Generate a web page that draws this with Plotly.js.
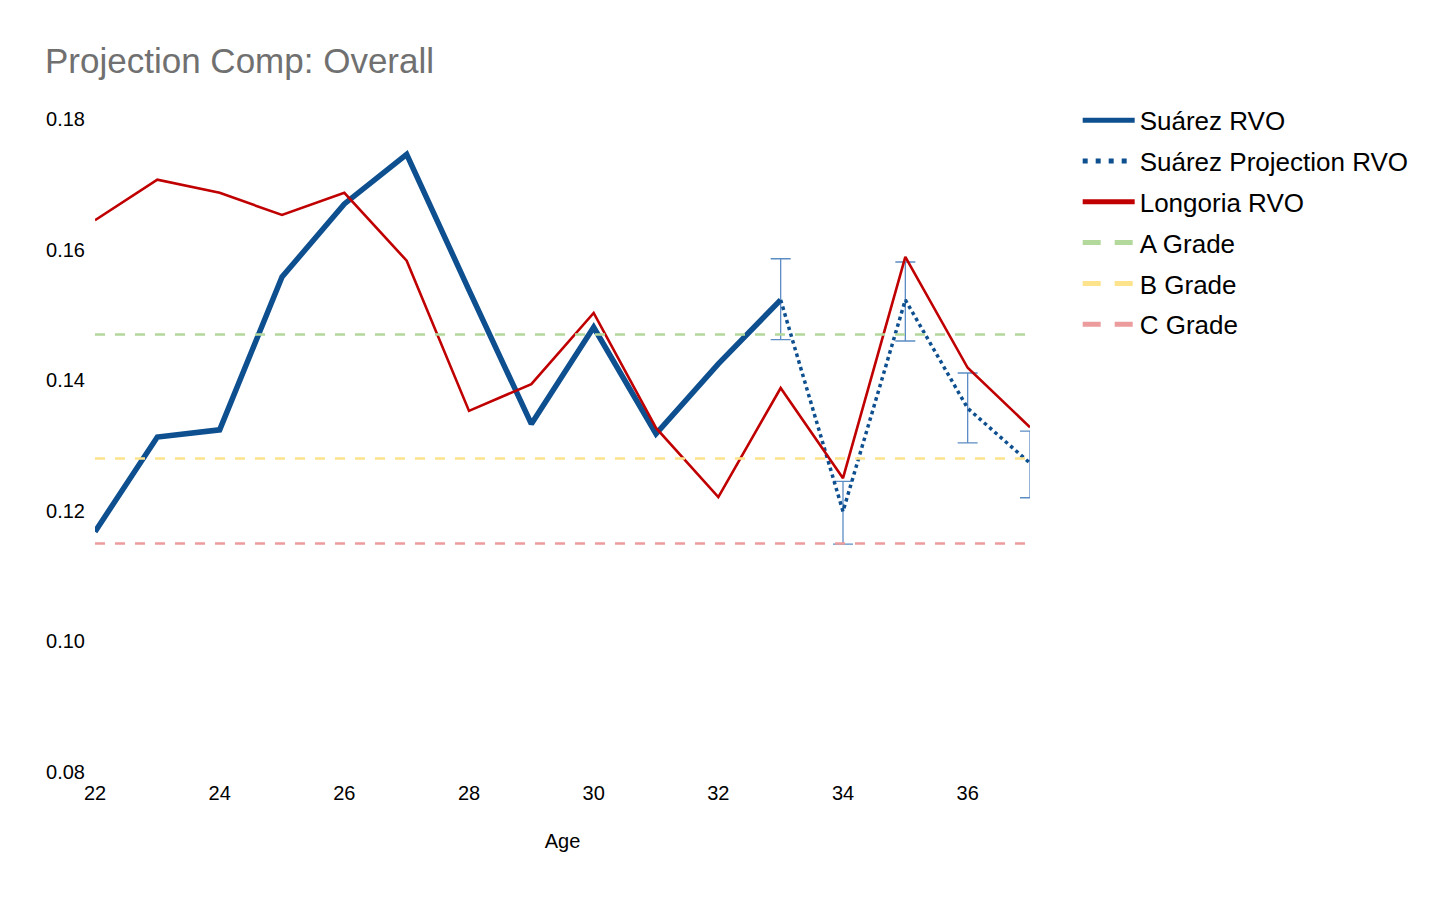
<!DOCTYPE html>
<html>
<head>
<meta charset="utf-8">
<script src="https://cdn.plot.ly/plotly-3.0.1.min.js"></script>
<style>html,body{margin:0;padding:0;background:#fff;}#chart{width:1456px;height:898px;}</style>
</head>
<body>
<div id="chart"></div>
<script>
const ages = [22,23,24,25,26,27,28,29,30,31,32,33,34,35,36,37];
const suarezAges = [22,23,24,25,26,27,28,29,30,31,32,33];
const suarezRVO = [0.1168,0.1313,0.1324,0.1558,0.1670,0.1746,0.1538,0.1333,0.1481,0.1318,0.1425,0.1523];
const projAges = [33,34,35,36,37];
const projRVO = [0.1523,0.1199,0.1523,0.1357,0.1273];
const projErrPlus = [0.0063,0.0046,0.0058,0.0054,0.0049];
const projErrMinus = [0.0061,0.0050,0.0063,0.0053,0.0053];
const longoriaRVO = [0.1645,0.1707,0.1687,0.1653,0.1687,0.1583,0.1353,0.1394,0.1503,0.1327,0.1221,0.1388,0.1250,0.1589,0.1419,0.1328];
const gradeAges = [22,37];
const gradeA = 0.147;
const gradeB = 0.128;
const gradeC = 0.115;

const names = ['Suárez RVO','Suárez Projection RVO','Longoria RVO','A Grade','B Grade','C Grade'];
const colors = ['#0d4f8f','#0d4f8f','#c00000','#b3d89c','#fde38c','#ec9c9c'];

const traces = [
  {x: suarezAges, y: suarezRVO, name: names[0], mode: 'lines', showlegend: false,
   line: {color: colors[0], width: 5.5}},
  {x: projAges, y: projRVO, name: names[1], mode: 'lines', showlegend: false,
   line: {color: colors[1], width: 3.5, dash: 'dot'},
   error_y: {type: 'data', symmetric: false, array: projErrPlus, arrayminus: projErrMinus,
             color: '#5b8cc4', thickness: 1.3, width: 10}},
  {x: ages, y: longoriaRVO, name: names[2], mode: 'lines', showlegend: false,
   line: {color: colors[2], width: 2.6}},
  {x: gradeAges, y: gradeAges.map(() => gradeA), name: names[3], mode: 'lines', showlegend: false,
   line: {color: colors[3], width: 2.6, dash: '10px,10px'}},
  {x: gradeAges, y: gradeAges.map(() => gradeB), name: names[4], mode: 'lines', showlegend: false,
   line: {color: colors[4], width: 2.6, dash: '10px,10px'}},
  {x: gradeAges, y: gradeAges.map(() => gradeC), name: names[5], mode: 'lines', showlegend: false,
   line: {color: colors[5], width: 2.6, dash: '10px,10px'}}
];

// legend-only entries (thicker sample lines as in the reference legend)
const legendDash = ['solid', '5px,8px', 'solid', '18px,14px', '18px,14px', '18px,14px'];
names.forEach((n, i) => {
  traces.push({x: [null], y: [null], name: n, mode: 'lines', legendgroup: 'g' + i,
               line: {color: colors[i], width: 5, dash: legendDash[i]}, hoverinfo: 'skip'});
});

const layout = {
  width: 1456, height: 898,
  margin: {l: 95, r: 426, t: 119, b: 126},
  paper_bgcolor: '#ffffff', plot_bgcolor: '#ffffff',
  font: {family: 'Liberation Sans, Arial, sans-serif', color: '#000'},
  title: {text: 'Projection Comp: Overall', x: 45/1456, xanchor: 'left', xref: 'container',
          y: 1 - 61/898, yanchor: 'middle', yref: 'container',
          font: {size: 35, color: '#707070'}},
  xaxis: {range: [22, 37], dtick: 2, tick0: 22, showgrid: false, zeroline: false, showline: false,
          ticks: '', tickfont: {size: 20}, ticklabelstandoff: 7,
          title: {text: 'Age', font: {size: 20}, standoff: 30}},
  yaxis: {range: [0.08, 0.18], dtick: 0.02, tick0: 0.08, tickformat: '.2f', showgrid: false,
          zeroline: false, showline: false, ticks: '', tickfont: {size: 20}, ticklabelstandoff: 9},
  showlegend: true,
  legend: {x: 1.051, xanchor: 'left', y: 1.034, yanchor: 'top', font: {size: 26},
           traceorder: 'grouped', tracegroupgap: 4, itemwidth: 52, bgcolor: 'rgba(0,0,0,0)'}
};

Plotly.newPlot('chart', traces, layout, {displayModeBar: false, responsive: false});
</script>
</body>
</html>
